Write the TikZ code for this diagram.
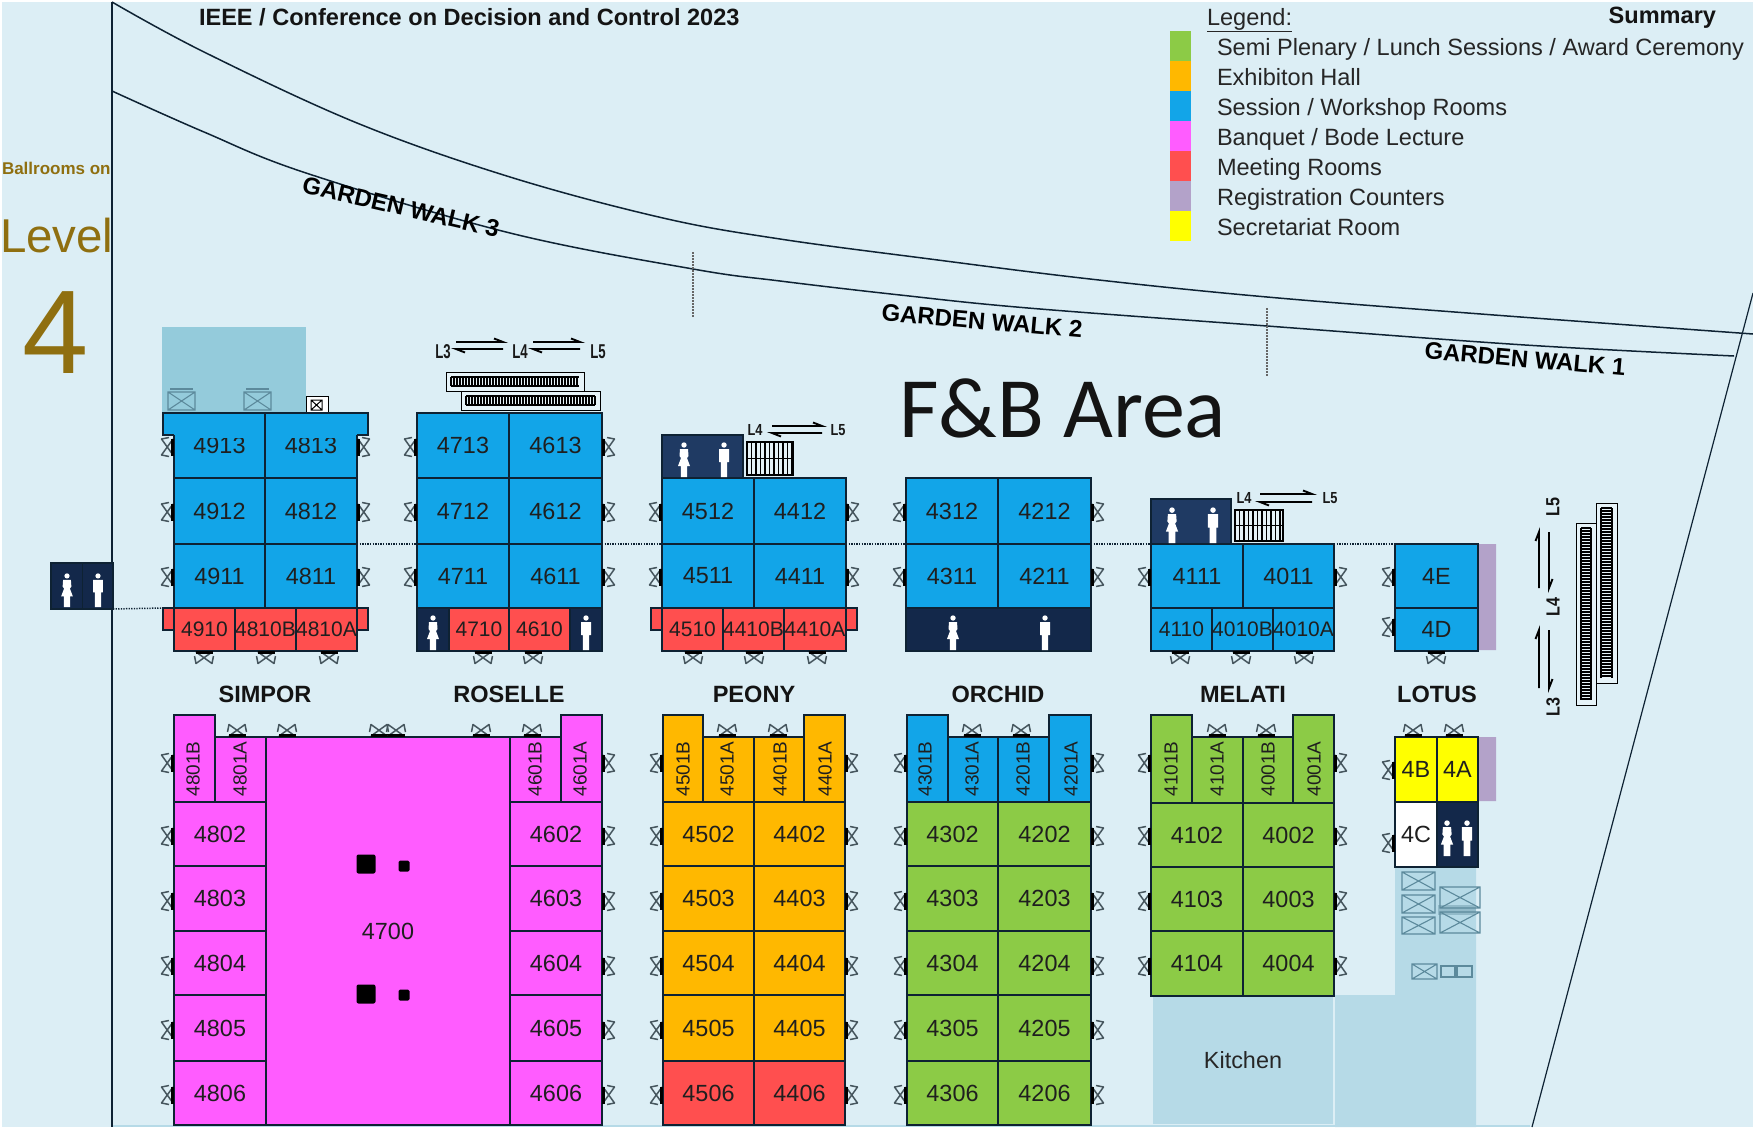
\documentclass[tikz,border=0pt]{standalone}
\usepackage{fontspec}
\usepackage{graphicx}
\setmainfont{Liberation Sans}
\newfontfamily\calib{Carlito}
\definecolor{bgc}{HTML}{DCEEF5}
\definecolor{cblue}{HTML}{12A5E8}
\definecolor{cgreen}{HTML}{8CCB46}
\definecolor{corange}{HTML}{FFB800}
\definecolor{cpink}{HTML}{FF5CFF}
\definecolor{cred}{HTML}{FF4F4F}
\definecolor{cpurple}{HTML}{B3A2C9}
\definecolor{cyell}{HTML}{FFFF00}
\definecolor{cdark}{HTML}{13284A}
\definecolor{cdarkb}{HTML}{1F3A63}
\definecolor{cteal}{HTML}{94CBDB}
\definecolor{cpale}{HTML}{B6DAE7}
\definecolor{cbrown}{HTML}{8F6F10}
\definecolor{cline}{HTML}{0E2233}
\definecolor{cdoor}{HTML}{46565E}
\definecolor{cxb}{HTML}{5C8A9C}
\tikzset{
  room/.style={draw=cline,line width=1.2pt,inner sep=0pt,outer sep=0pt,text=black!88,font=\fontsize{23.4}{24}\selectfont},
  smallroom/.style={room,font=\fontsize{21}{22}\selectfont},
  plain/.style={inner sep=0pt,outer sep=0pt},
  hall/.style={plain,font=\bfseries\fontsize{23.55}{24}\selectfont,text=black!92},
  leg/.style={plain,anchor=base west,font=\fontsize{23.55}{24}\selectfont,text=black!85},
  walk/.style={plain,font=\bfseries\fontsize{24}{24}\selectfont},
  swatch/.style={plain,minimum width=21pt,minimum height=30pt},
  lvlm/.style={plain,font=\bfseries\fontsize{20}{20}\selectfont,text=black!90},
  lvln/.style={plain,font=\bfseries\fontsize{16}{16}\selectfont,text=black!90},
  wall/.style={draw=cline,line width=1.5pt},
  dotl/.style={draw=cline,line width=1.5pt,dash pattern=on 1.3pt off 1.3pt},
  harp/.style={draw=black,line width=1.9pt},
  xb/.style={draw=cxb,line width=1.1pt},
}
\newcommand{\room}[7][room]{%
  \pgfmathsetmacro{\rcx}{(#3+#5)/2}\pgfmathsetmacro{\rcy}{(#4+#6)/2}%
  \pgfmathsetmacro{\rw}{#5-#3}\pgfmathsetmacro{\rh}{#6-#4}%
  \node[room,#1,minimum width=\rw pt,minimum height=\rh pt] (#2) at (\rcx,\rcy) {#7};}
% door: wall position, angle 0 left, 180 right, -90 up, 90 down
\newcommand{\door}[3]{\begin{scope}[shift={(#1,#2)},rotate=#3]
  \draw[cdoor,line width=1.5pt,line join=round] (-1,-8)--(-12.5,8)--(-5,9.5) (-1,8)--(-12.5,-8)--(-5,-9.5);
  \draw[black,line width=2.8pt] (-1.2,-8.5)--(-1.2,8.5);
\end{scope}}
\newcommand{\man}[3]{\begin{scope}[shift={(#1,#2)},scale=#3/35]
  \fill[white] (0,3) circle (2.7);
  \fill[white] (-5,7)--(5,7)--(5,20)--(3.2,20)--(3.2,35)--(-3.2,35)--(-3.2,20)--(-5,20)--cycle;
\end{scope}}
\newcommand{\woman}[3]{\begin{scope}[shift={(#1,#2)},scale=#3/35]
  \fill[white] (0,3) circle (2.7);
  \fill[white] (-4,7)--(4,7)--(4.5,14)--(3,16)--(6,24)--(3.2,24)--(3.2,35)--(-3.2,35)--(-3.2,24)--(-6,24)--(-3,16)--(-4.5,14)--cycle;
\end{scope}}
\newcommand{\stairH}[4]{%
  \draw[black,line width=1pt,fill=bgc!70!white] (#1,#2) rectangle (#3,#4);
  \pgfmathsetmacro{\qa}{#1+5}\pgfmathsetmacro{\qb}{#1+8}\pgfmathsetmacro{\qe}{#3-5}%
  \pgfmathsetmacro{\qt}{#2+5}\pgfmathsetmacro{\qu}{#4-5}%
  \foreach \xx in {\qa,\qb,...,\qe} \draw[black,line width=1.1pt] (\xx,\qt)--(\xx,\qu);
  \draw[black,line width=1.1pt] (\qa,\qt)--(\qe,\qt) (\qa,\qu)--(\qe,\qu);}
\newcommand{\stairV}[4]{%
  \draw[black,line width=1pt,fill=bgc!70!white] (#1,#2) rectangle (#3,#4);
  \pgfmathsetmacro{\qa}{#2+5}\pgfmathsetmacro{\qb}{#2+8}\pgfmathsetmacro{\qe}{#4-5}%
  \pgfmathsetmacro{\qt}{#1+5}\pgfmathsetmacro{\qu}{#3-5}%
  \foreach \yy in {\qa,\qb,...,\qe} \draw[black,line width=1.1pt] (\qt,\yy)--(\qu,\yy);
  \draw[black,line width=1.1pt] (\qt,\qa)--(\qt,\qe) (\qu,\qa)--(\qu,\qe);}
\newcommand{\stairG}[4]{%
  \draw[black,line width=1.2pt,fill=bgc!70!white] (#1,#2) rectangle (#3,#4);
  \pgfmathsetmacro{\qb}{#1+4.5}\pgfmathsetmacro{\qc}{#1+9}\pgfmathsetmacro{\qm}{(#2+#4)/2}%
  \foreach \xx in {\qb,\qc,...,#3} \draw[black,line width=1.1pt] (\xx,#2)--(\xx,#4);
  \draw[black,line width=1.4pt] (#1,\qm)--(#3,\qm);}
\newcommand{\xbox}[4]{\draw[xb] (#1,#2) rectangle (#3,#4) (#1,#2)--(#3,#4) (#1,#4)--(#3,#2);}
\newcommand{\harpR}[3]{\draw[harp] (#1,#3)--(#2,#3)--++(-9,-3.5);}
\newcommand{\harpL}[3]{\draw[harp] (#2,#3)--(#1,#3)--++(9,3.5);}
\begin{document}
\begin{tikzpicture}[x=1pt,y=-1pt]
\useasboundingbox (0,0) rectangle (1753,1127);
\fill[white] (0,0) rectangle (1753,1127);
\fill[bgc] (2,2) rectangle (1753,1127);
\fill[cpale] (113,1125) rectangle (1530,1127);
% site lines
\draw[wall,line width=1.2pt] (112,2)--(112,1127);
\draw[wall] plot[smooth,tension=.6] coordinates {(112,2)(204,52)(357,123)(510,177)(663,218)(780,239)(930,259)(1090,279)(1267,297)(1494,315)(1753,334)};
\draw[wall] plot[smooth,tension=.6] coordinates {(112,91)(204,132)(306,173)(510,233)(693,269)(780,281)(900,295)(1028,308)(1267,326)(1525,345)(1734,356)};
\draw[wall,line width=1.2pt] (1753,293)--(1532,1127);
\draw[draw=black!60,line width=1.3pt,dash pattern=on 1.5pt off 1.5pt] (693,252)--(693,318) (1267,308)--(1267,376);
% headings
\node[hall,anchor=west] (title) at (199,17) {IEEE / Conference on Decision and Control 2023};
\node[hall,anchor=east] (summary) at (1716,18) {Summary};
\node[leg] (legend) at (1207,25) {\underline{Legend:}};
\node[swatch,fill=cgreen] (s1) at (1180.5,46) {};
\node[swatch,fill=corange] (s2) at (1180.5,76) {};
\node[swatch,fill=cblue] (s3) at (1180.5,106) {};
\node[swatch,fill=cpink] (s4) at (1180.5,136) {};
\node[swatch,fill=cred] (s5) at (1180.5,166) {};
\node[swatch,fill=cpurple] (s6) at (1180.5,196) {};
\node[swatch,fill=cyell] (s7) at (1180.5,226) {};
\node[leg] (t1) at (1217,55) {Semi Plenary / Lunch Sessions / Award Ceremony};
\node[leg] (t2) at (1217,85) {Exhibiton Hall};
\node[leg] (t3) at (1217,115) {Session / Workshop Rooms};
\node[leg] (t4) at (1217,145) {Banquet / Bode Lecture};
\node[leg] (t5) at (1217,175) {Meeting Rooms};
\node[leg] (t6) at (1217,205) {Registration Counters};
\node[leg] (t7) at (1217,235) {Secretariat Room};
\node[plain,anchor=west,text=cbrown,font=\bfseries\fontsize{17}{17}\selectfont] (ball) at (2,168) {Ballrooms on};
\node[plain,anchor=base west,text=cbrown,font=\fontsize{47.5}{48}\selectfont] (lev) at (0,252) {Level};
\node[plain,anchor=base west,text=cbrown,font=\fontsize{119}{119}\selectfont] (four) at (23,373) {4};
\node[walk,rotate=-13] (gw3) at (401,207) {GARDEN WALK 3};
\node[walk,rotate=-5] (gw2) at (982,321) {GARDEN WALK 2};
\node[walk,rotate=-5] (gw1) at (1525,359) {GARDEN WALK 1};
\node[plain,anchor=base west,font=\calib\fontsize{86}{86}\selectfont,text=black!92] (fb) at (899,437) {F\&B Area};
% pale areas
\fill[cteal] (162,327) rectangle (306,413);
\node[plain,fill=cpale,minimum width=180pt,minimum height=127pt,font=\fontsize{23.4}{24}\selectfont,text=black!85] (kitchen) at (1243,1060.5) {Kitchen};
\fill[cpale] (1335,995) rectangle (1476,1127) (1395,867) rectangle (1476,995);
% lifts
\xbox{168}{392}{195}{410}\draw[xb] (170,389)--(193,389);
\xbox{244}{392}{271}{410}\draw[xb] (246,389)--(269,389);
\draw[black,line width=1pt,fill=white] (306,396) rectangle (328,413);
\draw[black,line width=1pt] (311,400) rectangle (322,410) (311,400)--(322,410) (311,410)--(322,400);
\xbox{1402}{872}{1435}{890}\xbox{1402}{895}{1435}{913}\xbox{1402}{917}{1435}{934}
\fill[cxb!40!cpale] (1438,905) rectangle (1476,915);
\xbox{1440}{887}{1480}{908}\xbox{1440}{912}{1480}{933}
\xbox{1412}{964}{1437}{979}
\draw[xb] (1441,966) rectangle (1455,977) (1457,966) rectangle (1472,977);
% stairs
\stairH{446}{372}{584}{391}
\stairH{461}{391}{600}{410}
\stairG{747}{442}{793}{475}
\stairG{1235}{510}{1283}{541}
\stairV{1576}{523}{1596}{705}
\stairV{1596}{503}{1617}{683}
% level labels and arrows
\node[lvlm] (la) at (443,352) {\scalebox{.66}[1]{L3}};
\node[lvlm] (lb) at (520,352) {\scalebox{.66}[1]{L4}};
\node[lvlm] (lc) at (598,352) {\scalebox{.66}[1]{L5}};
\harpR{456}{503}{342}\harpL{456}{503}{349}
\harpR{533}{580}{342}\harpL{533}{580}{349}
\node[lvln] (ld) at (755,430) {\scalebox{.8}[1]{L4}};
\node[lvln] (le) at (838,430) {\scalebox{.8}[1]{L5}};
\harpR{772}{822}{426}\harpL{772}{822}{433}
\node[lvln] (lf) at (1244,498) {\scalebox{.8}[1]{L4}};
\node[lvln] (lg) at (1330,498) {\scalebox{.8}[1]{L5}};
\harpR{1260}{1312}{494}\harpL{1260}{1312}{502}
\node[hall,font=\bfseries\fontsize{19}{19}\selectfont] (lh) at (1553,507) {\rotatebox{90}{\scalebox{.85}[1]{L5}}};
\node[hall,font=\bfseries\fontsize{19}{19}\selectfont] (li) at (1553,607) {\rotatebox{90}{\scalebox{.85}[1]{L4}}};
\node[hall,font=\bfseries\fontsize{19}{19}\selectfont] (lj) at (1553,707) {\rotatebox{90}{\scalebox{.85}[1]{L3}}};
\draw[harp] (1539,588)--(1539,532)--++(-3.5,9);
\draw[harp] (1549,532)--(1549,588)--++(3.5,-9);
\draw[harp] (1539,688)--(1539,630)--++(-3.5,9);
\draw[harp] (1549,630)--(1549,688)--++(3.5,-9);
% purple counters
\fill[cpurple] (1478,544) rectangle (1496,650) (1478,737) rectangle (1496,801);
% bumps behind the red rows
\node[room,fill=cred,minimum width=205pt,minimum height=22pt] (bumpS) at (265.5,619) {};
\node[room,fill=cred,minimum width=206pt,minimum height=22pt] (bumpP) at (754,619) {};
% upper blue rooms
\foreach \nm/\xa/\xb/\ya/\yb in {4913/174/265/413/478,4813/265/357/413/478,4912/174/265/478/544,4812/265/357/478/544,4911/174/265/544/608,4811/265/357/544/608,
 4713/417/509/413/478,4613/509/602/413/478,4712/417/509/478/544,4612/509/602/478/544,4711/417/509/544/608,4611/509/602/544/608,
 4512/662/754/478/544,4412/754/846/478/544,4511/662/754/544/608,4411/754/846/544/608,
 4312/906/998/478/544,4212/998/1091/478/544,4311/906/998/544/608,4211/998/1091/544/608,
 4111/1151/1243/544/608,4011/1243/1334/544/608,4E/1395/1478/544/608}
 {\room[fill=cblue]{r\nm}{\xa}{\ya}{\xb}{\yb}{\nm}}
\room[fill=cblue]{r4D}{1395}{608}{1478}{651}{4D}
\foreach \nm/\xa/\xb in {4110/1151/1212,4010B/1212/1273,4010A/1273/1334}
 {\room[smallroom,fill=cblue]{r\nm}{\xa}{608}{\xb}{651}{\nm}}
% blue cap of SIMPOR
\fill[cblue] (163,413) rectangle (368,435);
\fill[cblue] (175,430) rectangle (356,438);
\draw[wall,line width=1.2pt] (174,435)--(163,435)--(163,413)--(368,413)--(368,435)--(357,435);
\draw[wall,line width=1.2pt] (265,413)--(265,445);
% red rooms
\foreach \nm/\xa/\xb in {4910/174/235,4810B/235/296,4810A/296/357,4710/449/509,4610/509/570,4510/662/723,4410B/723/784,4410A/784/846}
 {\room[smallroom,fill=cred]{r\nm}{\xa}{608}{\xb}{651}{\nm}}
% rest rooms
\node[room,fill=cdark,minimum width=62pt,minimum height=46pt] (wcL) at (82,586) {};
\draw[cline,line width=1pt] (82,563)--(82,609);
\woman{67}{573}{34}\man{98}{573}{34}
\room[fill=cdark]{wcRa}{417}{608}{449}{651}{}
\room[fill=cdark]{wcRb}{570}{608}{602}{651}{}
\woman{433}{615}{35}\man{586}{615}{35}
\room[fill=cdarkb]{wcP}{662}{435}{743}{478}{}
\woman{684}{442}{35}\man{724}{442}{35}
\room[fill=cdark]{wcO}{906}{608}{1091}{651}{}
\woman{953}{615}{35}\man{1045}{615}{35}
\room[fill=cdarkb]{wcM}{1151}{499}{1231}{544}{}
\woman{1172}{507}{36}\man{1213}{507}{36}
% lower blocks
\room[fill=cpink]{r4700}{266}{737}{510}{1125}{4700}
\foreach \nm/\ya/\yb in {2/802/866,3/866/931,4/931/995,5/995/1061,6/1061/1125}{
 \room[fill=cpink]{r480\nm}{174}{\ya}{266}{\yb}{480\nm}
 \room[fill=cpink]{r460\nm}{510}{\ya}{602}{\yb}{460\nm}
}
\foreach \nm/\ya/\yb/\co in {2/802/866/corange,3/866/931/corange,4/931/995/corange,5/995/1061/corange,6/1061/1125/cred}{
 \room[fill=\co]{r450\nm}{663}{\ya}{754}{\yb}{450\nm}
 \room[fill=\co]{r440\nm}{754}{\ya}{845}{\yb}{440\nm}
}
\foreach \nm/\ya/\yb in {2/802/866,3/866/931,4/931/995,5/995/1061,6/1061/1125}{
 \room[fill=cgreen]{r430\nm}{907}{\ya}{998}{\yb}{430\nm}
 \room[fill=cgreen]{r420\nm}{998}{\ya}{1091}{\yb}{420\nm}
}
\foreach \nm/\ya/\yb in {2/803/867,3/867/931,4/931/996}{
 \room[fill=cgreen]{r410\nm}{1151}{\ya}{1243}{\yb}{410\nm}
 \room[fill=cgreen]{r400\nm}{1243}{\ya}{1334}{\yb}{400\nm}
}
% narrow rooms with upright-running labels
\foreach \nm/\xa/\xb/\ya/\tx/\co/\yb in {
 4801B/174/215/715/193/cpink/802,4801A/215/266/737/240/cpink/802,4601B/510/561/737/535/cpink/802,4601A/561/602/715/580/cpink/802,
 4501B/663/703/715/683/corange/802,4501A/703/754/737/727/corange/802,4401B/754/804/737/780/corange/802,4401A/804/845/715/825/corange/802,
 4301B/907/948/715/925/cblue/802,4301A/948/998/737/972/cblue/802,4201B/998/1049/737/1023/cblue/802,4201A/1049/1091/715/1071/cblue/802,
 4101B/1151/1192/715/1171/cgreen/803,4101A/1192/1243/737/1217/cgreen/803,4001B/1243/1293/737/1268/cgreen/803,4001A/1293/1334/715/1314/cgreen/803}{
 \room[fill=\co]{r\nm}{\xa}{\ya}{\xb}{\yb}{}
 \node[plain,text=black!88,font=\fontsize{19}{19}\selectfont] (l\nm) at (\tx,769) {\rotatebox{90}{\nm}};
}
% LOTUS lower
\room[fill=cyell]{r4B}{1395}{737}{1437}{802}{4B}
\room[fill=cyell]{r4A}{1437}{737}{1478}{802}{4A}
\room[fill=white]{r4C}{1395}{802}{1437}{867}{4C}
\room[fill=cdark]{wcT}{1437}{802}{1478}{867}{}
\woman{1447}{820}{36}\man{1467}{820}{36}
% pillars
\node[plain,fill=black,rounded corners=2pt,minimum size=19pt] (p1) at (366,864) {};
\node[plain,fill=black,rounded corners=1.5pt,minimum size=11pt] (p2) at (404,866) {};
\node[plain,fill=black,rounded corners=2pt,minimum size=19pt] (p3) at (366,994) {};
\node[plain,fill=black,rounded corners=1.5pt,minimum size=11pt] (p4) at (404,995) {};
% hall names
\node[hall] (n1) at (265,694) {SIMPOR};
\node[hall] (n2) at (509,694) {ROSELLE};
\node[hall] (n3) at (754,694) {PEONY};
\node[hall] (n4) at (998,694) {ORCHID};
\node[hall] (n5) at (1243,694) {MELATI};
\node[hall] (n6) at (1437,694) {LOTUS};
% dotted corridor lines
\draw[dotl] (wcL.south east)--(bumpS.north west);
\draw[dotl] (r4812.south east)--(r4712.south west);
\draw[dotl] (r4612.south east)--(r4512.south west);
\draw[dotl] (r4412.south east)--(r4312.south west);
\draw[dotl] (r4212.south east)--(r4111.north west);
\draw[dotl] (r4011.north east)--(r4E.north west);
% doors
\foreach \yy in {447,512,577}{\door{174}{\yy}{0}\door{357}{\yy}{180}\door{417}{\yy}{0}\door{602}{\yy}{180}}
\foreach \yy in {512,577}{\door{662}{\yy}{0}\door{846}{\yy}{180}\door{906}{\yy}{0}\door{1091}{\yy}{180}}
\door{1151}{577}{0}\door{1334}{577}{180}
\door{1395}{577}{0}\door{1395}{627}{0}
\foreach \xx in {204,266,329,483,533,693,754,817,1180,1241,1304,1436}{\door{\xx}{651}{90}}
\foreach \yy in {763,836,901,966,1030,1095}{\door{174}{\yy}{0}\door{602}{\yy}{180}\door{663}{\yy}{0}\door{845}{\yy}{180}\door{907}{\yy}{0}\door{1091}{\yy}{180}}
\foreach \yy in {763,836,901,966}{\door{1151}{\yy}{0}\door{1334}{\yy}{180}}
\door{1395}{770}{0}\door{1395}{843}{0}
\foreach \xx in {237,287,379,396,481,532,727,778,972,1021,1217,1266,1413,1454}{\door{\xx}{737}{-90}}
\end{tikzpicture}
\end{document}
